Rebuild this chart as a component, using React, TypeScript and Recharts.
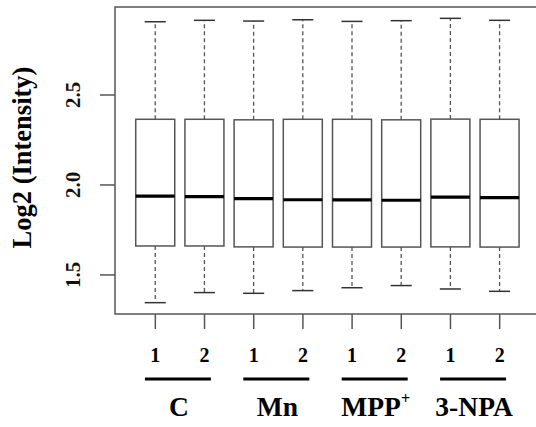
import { Bar, ComposedChart, ReferenceArea, XAxis, YAxis } from "recharts";

// one box per sample, two replicates per treatment
const samples = [1, 2, 3, 4, 5, 6, 7, 8];
const replicates = ["1", "2", "1", "2", "1", "2", "1", "2"];
const groupNames = ["C", "Mn", "MPP", "3-NPA"];
const groupSup = ["", "", "+", ""];
const groupCenters = [1.5, 3.5, 5.5, 7.5];

const whiskerLow = [1.346, 1.402, 1.398, 1.413, 1.429, 1.441, 1.422, 1.409];
const q1 = [1.661, 1.661, 1.656, 1.655, 1.655, 1.655, 1.656, 1.655];
const median = [1.938, 1.935, 1.924, 1.918, 1.917, 1.915, 1.932, 1.930];
const q3 = [2.365, 2.365, 2.362, 2.365, 2.365, 2.362, 2.366, 2.365];
const whiskerHigh = [2.907, 2.915, 2.911, 2.918, 2.909, 2.913, 2.926, 2.915];

const yTicks = [1.5, 2.0, 2.5];
const xDomain: [number, number] = [0.18, 8.82];
const yDomain: [number, number] = [1.283, 2.989];

const rows = samples.map((s, i) => ({
  x: s,
  rep: replicates[i],
  lo: whiskerLow[i],
  q1: q1[i],
  med: median[i],
  q3: q3[i],
  hi: whiskerHigh[i],
}));

const FONT = "'Liberation Serif', 'Times New Roman', serif";
const GREY = "#555";

function BoxShape(props: any) {
  const { x, width, payload } = props;
  const top = Math.min(props.y, props.y + props.height);
  const h = Math.abs(props.height);
  const ppu = h / (payload.q3 - payload.q1);
  const cx = x + width / 2;
  const yMed = top + (payload.q3 - payload.med) * ppu;
  const yHi = top - (payload.hi - payload.q3) * ppu;
  const yLo = top + h + (payload.q1 - payload.lo) * ppu;
  const cap = width * 0.27;
  return (
    <g>
      <line x1={cx} x2={cx} y1={top} y2={yHi} stroke={GREY} strokeWidth={1.3} strokeDasharray="4 3" />
      <line x1={cx} x2={cx} y1={top + h} y2={yLo} stroke={GREY} strokeWidth={1.3} strokeDasharray="4 3" />
      <line x1={cx - cap} x2={cx + cap} y1={yHi} y2={yHi} stroke="#333" strokeWidth={1.5} />
      <line x1={cx - cap} x2={cx + cap} y1={yLo} y2={yLo} stroke="#333" strokeWidth={1.5} />
      <rect x={x} y={top} width={width} height={h} fill="#fff" stroke={GREY} strokeWidth={1.5} />
      <line x1={x} x2={x + width} y1={yMed} y2={yMed} stroke="#000" strokeWidth={3.2} />
    </g>
  );
}

function YTick(props: any) {
  const { x, y, payload } = props;
  return (
    <text
      x={x - 18}
      y={y}
      transform={`rotate(-90 ${x - 18} ${y})`}
      textAnchor="middle"
      fontFamily={FONT}
      fontWeight="bold"
      fontSize={21}
      fill="#111"
    >
      {Number(payload.value).toFixed(1)}
    </text>
  );
}

function RepTick(props: any) {
  const { x, y, payload } = props;
  const row = rows.find((r) => r.x === payload.value);
  return (
    <text x={x} y={y + 31} textAnchor="middle" fontFamily={FONT} fontWeight="bold" fontSize={20} fill="#000">
      {row ? row.rep : payload.value}
    </text>
  );
}

function GroupTick(props: any) {
  const { x, y, payload } = props;
  const i = groupCenters.indexOf(payload.value);
  return (
    <g>
      <line x1={x - 35} x2={x + 31} y1={y + 25} y2={y + 25} stroke="#000" strokeWidth={3} />
      <text x={x - 1} y={y + 62} textAnchor="middle" fontFamily={FONT} fontWeight="bold" fontSize={27.5} fill="#000">
        {groupNames[i]}
        {groupSup[i] ? (
          <tspan fontSize={16} dy={-12}>
            {groupSup[i]}
          </tspan>
        ) : null}
      </text>
    </g>
  );
}

function AxisTitle(props: any) {
  const vb = props.viewBox || { x: 0, y: 7, width: 115, height: 307 };
  const tx = vb.x + 31;
  const ty = vb.y + vb.height / 2 - 3;
  return (
    <text
      x={tx}
      y={ty}
      transform={`rotate(-90 ${tx} ${ty})`}
      textAnchor="middle"
      fontFamily={FONT}
      fontWeight="bold"
      fontSize={26.5}
      fill="#000"
    >
      Log2 (Intensity)
    </text>
  );
}

export default function App() {
  return (
    <div
      style={{
        position: "absolute",
        left: 0,
        top: 0,
        width: 536,
        height: 427,
        overflow: "hidden",
        background: "#fff",
      }}
    >
      <ComposedChart width={545} height={427} data={rows} margin={{ top: 7, right: 5, bottom: 0, left: 0 }}>
        <XAxis
          dataKey="x"
          type="number"
          domain={xDomain}
          ticks={samples}
          allowDataOverflow
          height={40}
          tickSize={15}
          tickMargin={2}
          axisLine={false}
          tickLine={{ stroke: GREY, strokeWidth: 1.5 }}
          tick={<RepTick />}
          interval={0}
        />
        <XAxis
          xAxisId="grp"
          dataKey="x"
          type="number"
          domain={xDomain}
          ticks={groupCenters}
          allowDataOverflow
          height={73}
          tickSize={0}
          tickMargin={0}
          axisLine={false}
          tickLine={false}
          tick={<GroupTick />}
          interval={0}
        />
        <YAxis
          type="number"
          domain={yDomain}
          ticks={yTicks}
          allowDataOverflow
          width={115}
          tickSize={15}
          tickMargin={2}
          axisLine={false}
          tickLine={{ stroke: GREY, strokeWidth: 1.5 }}
          tick={<YTick />}
          interval={0}
          label={<AxisTitle />}
        />
        <ReferenceArea
          x1={xDomain[0]}
          x2={xDomain[1]}
          y1={yDomain[0]}
          y2={yDomain[1]}
          fill="none"
          stroke={GREY}
          strokeWidth={1.5}
          ifOverflow="visible"
        />
        <Bar
          dataKey={(d: any) => [d.q1, d.q3]}
          barSize={39}
          shape={<BoxShape />}
          isAnimationActive={false}
        />
      </ComposedChart>
    </div>
  );
}
